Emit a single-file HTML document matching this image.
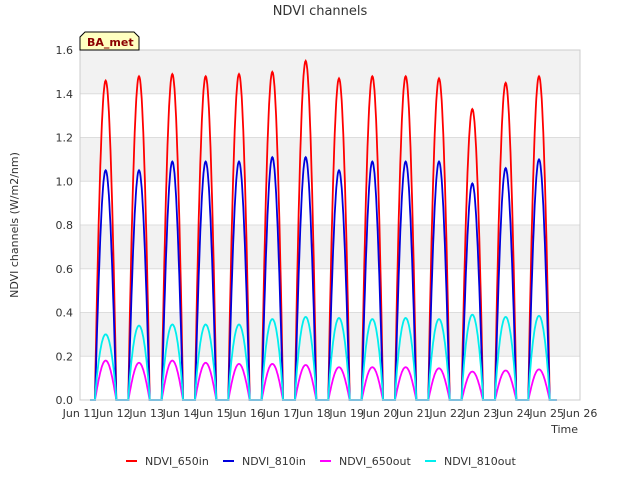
<!DOCTYPE html>
<html><head><meta charset="utf-8"><style>
body{margin:0;background:#fff;font-family:"Liberation Sans","DejaVu Sans",sans-serif;}
svg text{font-family:"DejaVu Sans","Liberation Sans",sans-serif;}
</style></head><body>
<svg id="chart" width="640" height="480" viewBox="0 0 640 480">
<rect width="640" height="480" fill="#fff"/>
<g id="bands"></g>
<g id="grid"></g>
<g id="series"></g>
<rect x="80" y="50" width="500" height="350" fill="none" stroke="#ccc"/>
<g id="ticks" font-size="11" fill="#333"></g>
<text x="320" y="15" text-anchor="middle" font-size="13" fill="#333">NDVI channels</text>
<text x="18" y="225" text-anchor="middle" font-size="11" fill="#333" transform="rotate(-90 18 225)">NDVI channels (W/m2/nm)</text>
<text x="578" y="433" text-anchor="end" font-size="11" fill="#333">Time</text>
<g>
<path d="M80,50 L80,37 L85,32 L134,32 L139,37 L139,50 Z" fill="#ffffc0" stroke="#000"/>
<text x="87" y="46" font-size="11" font-weight="bold" fill="#8b0000">BA_met</text>
</g>
<g id="legend" font-size="11" fill="#333"></g>
</svg>
<script>
const days=[11,12,13,14,15,16,17,18,19,20,21,22,23,24];
const red650in=[1.46,1.48,1.49,1.48,1.49,1.50,1.55,1.47,1.48,1.48,1.47,1.33,1.45,1.48];
const blue810in=[1.05,1.05,1.09,1.09,1.09,1.11,1.11,1.05,1.09,1.09,1.09,0.99,1.06,1.10];
const mag650out=[0.18,0.17,0.18,0.17,0.165,0.165,0.16,0.15,0.15,0.15,0.145,0.13,0.135,0.14];
const cyan810out=[0.30,0.34,0.345,0.345,0.345,0.37,0.38,0.375,0.37,0.375,0.37,0.39,0.38,0.385];
const yTicks=[0,0.2,0.4,0.6,0.8,1.0,1.2,1.4,1.6];
const xTickDays=[10,11,12,13,14,15,16,17,18,19,20,21,22,23,24,25,26];
const ns="http://www.w3.org/2000/svg";
const X=d=>80+(d-11)*(500/15);
const Y=v=>400-v*(350/1.6);
function mk(tag,attrs,parent){const e=document.createElementNS(ns,tag);for(const k in attrs)e.setAttribute(k,attrs[k]);parent.appendChild(e);return e;}
const bands=document.getElementById('bands'),grid=document.getElementById('grid'),ticks=document.getElementById('ticks');
for(let i=0;i<yTicks.length-1;i++){
  if(i%2===1){const b=mk('rect',{x:80,y:Y(yTicks[i+1]),width:500,height:Y(yTicks[i])-Y(yTicks[i+1]),fill:'#f2f2f2'},bands);
  
  }
}
yTicks.forEach(v=>{
  const l=mk('line',{x1:80,x2:580,y1:Y(v),y2:Y(v),stroke:'#ddd'},grid);
  
  
  const t=mk('text',{x:73,y:Y(v)+4,'text-anchor':'end'},ticks);t.textContent=v.toFixed(1);
  
  
});
xTickDays.forEach(d=>{
  const x=X(d);
  if(x>=60&&x<=600){
  const t=mk('text',{x:x,y:417,'text-anchor':'middle'},ticks);t.textContent='Jun '+d;
  
  }
});
const series=document.getElementById('series');
function draw(vals,color,pw,name){
  let pts=[];
  pts.push([X(11.3),Y(0)]);
  days.forEach((d,i)=>{
    const s=d+0.45,e=d+1.09;
    for(let k=0;k<=40;k++){const t=s+(e-s)*k/40;const v=vals[i]*Math.pow(Math.sin(Math.PI*k/40),pw);pts.push([X(t),Y(v)]);}
  });
  pts.push([X(25.3),Y(0)]);
  const p=mk('polyline',{points:pts.map(p=>p[0].toFixed(1)+','+p[1].toFixed(1)).join(' '),fill:'none',stroke:color,'stroke-width':1.8},series);
  
  
}
draw(red650in,'#ff0000',0.9,'series-ndvi-650in');
draw(blue810in,'#0000dd',1.0,'series-ndvi-810in');
draw(mag650out,'#ff00ff',1.0,'series-ndvi-650out');
draw(cyan810out,'#00eeee',0.8,'series-ndvi-810out');
const legend=document.getElementById('legend');
const entries=[['NDVI_650in','#ff0000',126],['NDVI_810in','#0000dd',223],['NDVI_650out','#ff00ff',320],['NDVI_810out','#00eeee',425]];
entries.forEach(en=>{
  const g=mk('g',{},legend);
  
  
  mk('line',{x1:en[2],x2:en[2]+11,y1:461,y2:461,stroke:en[1],'stroke-width':2},g);
  const t=mk('text',{x:en[2]+19,y:465},g);t.textContent=en[0];
});
</script>
</body></html>
